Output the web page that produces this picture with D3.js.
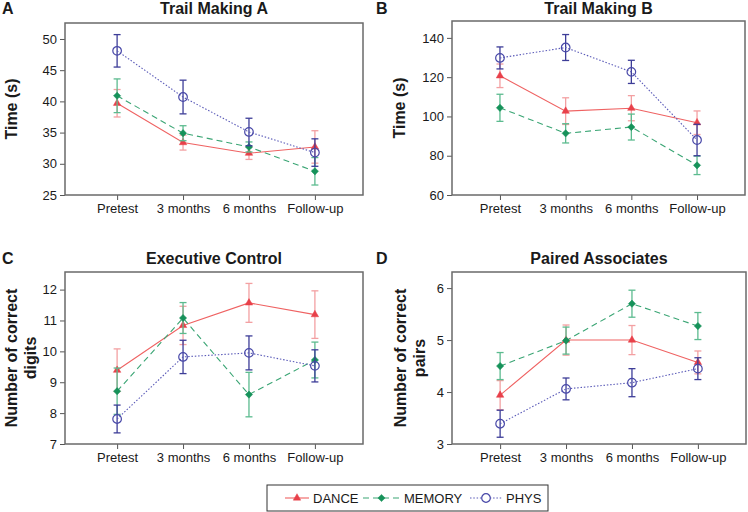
<!DOCTYPE html>
<html><head><meta charset="utf-8">
<script src="https://cdn.jsdelivr.net/npm/d3@7/dist/d3.min.js"></script>
<style>
body{margin:0;background:#fff;}
text{font-family:"Liberation Sans",Arial,sans-serif;fill:#1a1a1a;}
</style></head>
<body><svg id="c" width="748" height="512"></svg>
<script>
const categories = ["Pretest","3 months","6 months","Follow-up"];
const seriesNames = ["DANCE","MEMORY","PHYS"];
const panelLetters = ["A","B","C","D"];
const panelTitles = ["Trail Making A","Trail Making B","Executive Control","Paired Associates"];
const yLabels = [["Time (s)"],["Time (s)"],["Number of correct","digits"],["Number of correct","pairs"]];
const yTicksA = [25,30,35,40,45,50];
const yTicksB = [60,80,100,120,140];
const yTicksC = [7,8,9,10,11,12];
const yTicksD = [3,4,5,6];

// Panel A: Trail Making A
const danceA = [39.7,33.4,31.7,32.7],   danceErrA = [2.2,1.2,1.0,2.6];
const memoryA = [40.9,34.9,32.7,28.8],  memoryErrA = [2.7,1.2,0.8,2.2];
const physA = [48.1,40.7,35.1,31.8],    physErrA = [2.6,2.7,2.2,2.2];
// Panel B: Trail Making B
const danceB = [120.7,102.7,104.2,96.8], danceErrB = [6.0,6.8,6.4,6.0];
const memoryB = [104.4,91.4,94.6,75.1],  memoryErrB = [6.9,4.9,6.6,4.7];
const physB = [129.8,135.1,122.7,88.0],  physErrB = [5.6,6.6,5.9,8.0];
// Panel C: Executive Control
const danceC = [9.39,10.84,11.57,11.19], danceErrC = [0.69,0.62,0.63,0.77];
const memoryC = [8.71,11.08,8.6,9.72],   memoryErrC = [0.75,0.5,0.72,0.58];
const physC = [7.81,9.82,9.95,9.53],     physErrC = [0.45,0.54,0.55,0.52];
// Panel D: Paired Associates
const danceD = [3.94,5.0,5.0,4.57],      danceErrD = [0.28,0.29,0.28,0.22];
const memoryD = [4.5,4.99,5.7,5.27],     memoryErrD = [0.26,0.26,0.26,0.26];
const physD = [3.39,4.06,4.18,4.45],     physErrD = [0.26,0.21,0.27,0.21];

const panels = [
  {x0:65, x1:363, y0:23, y1:195, dom:[25,52.56], ticks:yTicksA, pad:0.76, align:0.52,
   data:[[danceA,danceErrA],[memoryA,memoryErrA],[physA,physErrA]], lab:[11], labY:109},
  {x0:452, x1:745, y0:21, y1:195, dom:[60,148.6], ticks:yTicksB, pad:0.73, align:0.5,
   data:[[danceB,danceErrB],[memoryB,memoryErrB],[physB,physErrB]], lab:[399], labY:108},
  {x0:65, x1:363, y0:272, y1:444, dom:[7,12.57], ticks:yTicksC, pad:0.76, align:0.52,
   data:[[danceC,danceErrC],[memoryC,memoryErrC],[physC,physErrC]], lab:[11,30], labY:358},
  {x0:452, x1:746, y0:272, y1:444, dom:[3,6.31], ticks:yTicksD, pad:0.73, align:0.5,
   data:[[danceD,danceErrD],[memoryD,memoryErrD],[physD,physErrD]], lab:[400,419], labY:358}
];

const styles = [
  {line:"#ef6262", mark:"#e8404a", err:"#f3a0a2", dash:null, sym:d3.symbolTriangle, size:24, rot:0, fill:true},
  {line:"#3aa574", mark:"#16925a", err:"#5cbb8f", dash:"6,4", sym:d3.symbolSquare, size:26, rot:45, fill:true},
  {line:"#5a5ab8", mark:"#4848a8", err:"#3d3d98", dash:"1.5,1.8", sym:d3.symbolCircle, size:58, rot:0, fill:false}
];

const svg = d3.select("#c");

panels.forEach((p,i)=>{
  const g = svg.append("g");
  const x = d3.scalePoint().domain(categories).range([p.x0,p.x1]).padding(p.pad).align(p.align);
  const y = d3.scaleLinear().domain(p.dom).range([p.y1,p.y0]);

  const ya = g.append("g").attr("transform",`translate(${p.x0},0)`)
    .call(d3.axisLeft(y).tickValues(p.ticks).tickFormat(d3.format("d")).tickSize(5).tickPadding(3));
  ya.select(".domain").remove();
  ya.selectAll("line").attr("stroke","#555");
  ya.selectAll("text").style("font-size","13px").style("font-family","Liberation Sans, Arial, sans-serif").attr("fill","#1a1a1a");
  const xa = g.append("g").attr("transform",`translate(0,${p.y1})`)
    .call(d3.axisBottom(x).tickSize(5).tickPadding(4));
  xa.select(".domain").remove();
  xa.selectAll("line").attr("stroke","#555");
  xa.selectAll("text").style("font-size","13px").style("font-family","Liberation Sans, Arial, sans-serif").attr("fill","#1a1a1a");

  g.append("rect").attr("x",p.x0).attr("y",p.y0).attr("width",p.x1-p.x0).attr("height",p.y1-p.y0)
    .attr("fill","none").attr("stroke","#6a6a6a").attr("stroke-width",1.5);

  const ty = i<2 ? 14 : 264;
  g.append("text").attr("x",(p.x0+p.x1)/2).attr("y",ty).attr("text-anchor","middle")
    .style("font-size","16px").style("font-weight","bold").text(panelTitles[i]);
  g.append("text").attr("x",i%2===0?2:376).attr("y",ty)
    .style("font-size","16px").style("font-weight","bold").text(panelLetters[i]);

  const lines = yLabels[i];
  lines.forEach((t,k)=>{
    g.append("text").attr("transform",`translate(${p.lab[k]},${p.labY}) rotate(-90)`)
      .attr("text-anchor","middle").attr("dominant-baseline","central")
      .style("font-size","16px").style("font-weight","bold").text(t);
  });

  p.data.forEach(([vals,errs],s)=>{
    const st = styles[s];
    const pts = categories.map((c,j)=>({c, v:vals[j], e:errs[j]}));
    const eb = g.append("g").attr("stroke",st.err).attr("stroke-width",1.3).attr("fill","none");
    pts.forEach(d=>{
      const cx = x(d.c);
      eb.append("line").attr("x1",cx).attr("x2",cx).attr("y1",y(d.v-d.e)).attr("y2",y(d.v+d.e));
      eb.append("line").attr("x1",cx-3.5).attr("x2",cx+3.5).attr("y1",y(d.v-d.e)).attr("y2",y(d.v-d.e));
      eb.append("line").attr("x1",cx-3.5).attr("x2",cx+3.5).attr("y1",y(d.v+d.e)).attr("y2",y(d.v+d.e));
    });
    g.append("path").datum(pts)
      .attr("d", d3.line().x(d=>x(d.c)).y(d=>y(d.v)))
      .attr("fill","none").attr("stroke",st.line).attr("stroke-width",1.1)
      .attr("stroke-dasharray",st.dash);
    g.selectAll(null).data(pts).enter().append("path")
      .attr("transform",d=>`translate(${x(d.c)},${y(d.v)}) rotate(${st.rot})`)
      .attr("d", d3.symbol().type(st.sym).size(st.size))
      .attr("fill", st.fill?st.mark:"none")
      .attr("stroke", st.mark).attr("stroke-width", st.fill?0.5:1.2);
  });
});

const lg = svg.append("g");
lg.append("rect").attr("x",267).attr("y",485).attr("width",281).attr("height",26)
  .attr("fill","#fff").attr("stroke","#333").attr("stroke-width",1);
const legItems = [
  {x1:285, x2:309, tx:313},
  {x1:363, x2:400, tx:404},
  {x1:470, x2:502, tx:506}
];
seriesNames.forEach((n,s)=>{
  const st = styles[s], it = legItems[s];
  const ly = 498;
  lg.append("line").attr("x1",it.x1).attr("x2",it.x2).attr("y1",ly).attr("y2",ly)
    .attr("stroke",st.line).attr("stroke-width",1.1).attr("stroke-dasharray",st.dash);
  lg.append("path").attr("transform",`translate(${(it.x1+it.x2)/2},${ly}) rotate(${st.rot})`)
    .attr("d", d3.symbol().type(st.sym).size(st.size))
    .attr("fill", st.fill?st.mark:"#fff").attr("stroke",st.mark).attr("stroke-width",st.fill?0.5:1.2);
  lg.append("text").attr("x",it.tx).attr("y",ly).attr("dominant-baseline","central")
    .style("font-size","13px").text(n);
});
</script></body></html>
